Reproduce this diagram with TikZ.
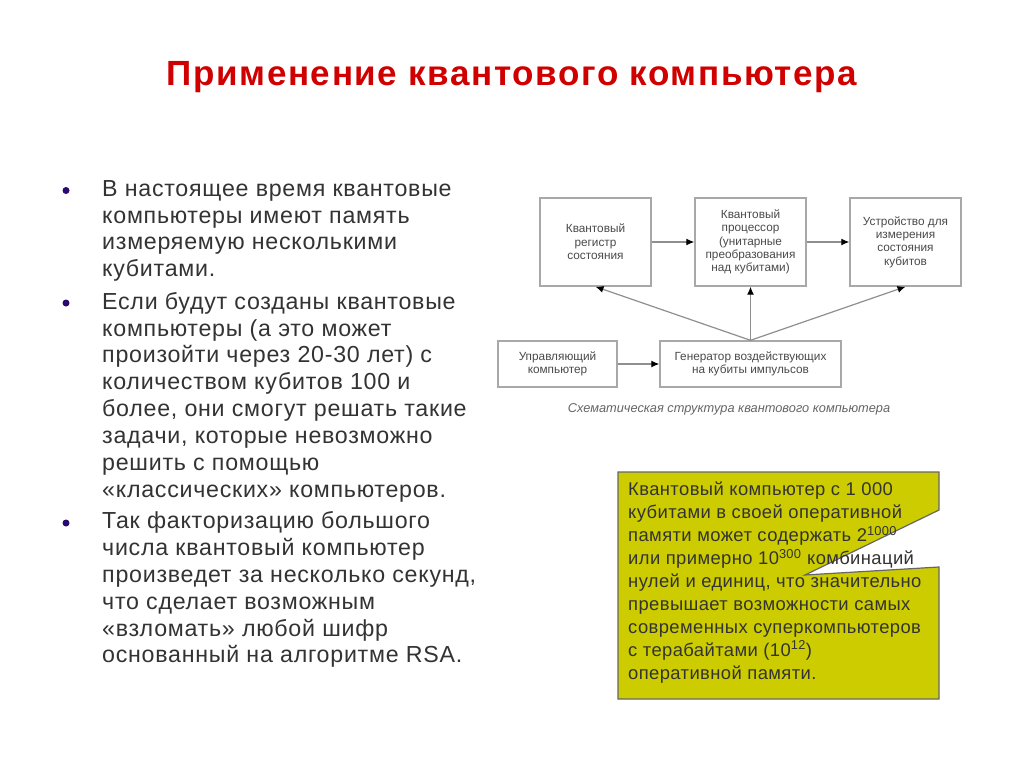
\documentclass[tikz,border=0pt]{standalone}
\usepackage{fontspec}
\setmainfont{Liberation Sans}
\usetikzlibrary{arrows.meta}
\definecolor{dtext}{HTML}{4A4A4A}
\definecolor{bodytext}{HTML}{333333}
\definecolor{dline}{HTML}{A8A8A8}
\definecolor{ttl}{HTML}{D00000}
\definecolor{bul}{HTML}{2A0A70}
\definecolor{yel}{HTML}{CCCC00}
\tikzset{
 dbox/.style={draw=dline,line width=1.4pt,fill=white,inner sep=0pt,align=center,text=dtext,font=\fontsize{11.8}{13.4}\selectfont},
 dconn/.style={draw=dline!85!black,line width=1.2pt,-{Latex[length=8pt,width=7pt,black]}},
 para/.style={anchor=north west,inner sep=0pt,align=left,text=bodytext,font=\fontsize{23.2}{26.85}\selectfont\addfontfeature{LetterSpace=3.2}},
 bulletdot/.style={circle,fill=bul,inner sep=0pt,minimum size=7pt},
}
\begin{document}
\begin{tikzpicture}[x=1pt,y=-1pt]
\useasboundingbox (0,0) rectangle (1024,768);
\fill[white] (0,0) rectangle (1024,768);
\node[text=ttl,inner sep=0pt] (title) at (512,77) {\fontsize{35}{42}\selectfont\bfseries\addfontfeature{LetterSpace=4.6}Применение квантового компьютера};
% bullets
\node[bulletdot] (b1dot) at (66,190.5) {};
\node[bulletdot] (b2dot) at (66,303) {};
\node[bulletdot] (b3dot) at (66,523) {};
\node[para] (p1) at (102,180) {В настоящее время квантовые\\компьютеры имеют память\\измеряемую несколькими\\кубитами.};
\node[para] (p2) at (102,292) {Если будут созданы квантовые\\компьютеры (а это может\\произойти через 20-30 лет) с\\количеством кубитов 100 и\\более, они смогут решать такие\\задачи, которые невозможно\\решить с помощью\\«классических» компьютеров.};
\node[para] (p3) at (102,511.5) {Так факторизацию большого\\числа квантовый компьютер\\произведет за несколько секунд,\\что сделает возможным\\«взломать» любой шифр\\основанный на алгоритме RSA.};
% diagram
\node[dbox,minimum width=111pt,minimum height=88pt] (reg) at (595.5,242) {Квантовый\\регистр\\состояния};
\node[dbox,minimum width=111pt,minimum height=88pt] (proc) at (750.5,242) {Квантовый\\процессор\\(унитарные\\преобразования\\над кубитами)};
\node[dbox,minimum width=111pt,minimum height=88pt] (meas) at (905.5,242) {Устройство для\\измерения\\состояния\\кубитов};
\node[dbox,minimum width=119pt,minimum height=46pt] (ctrl) at (557.5,364) {Управляющий\\компьютер};
\node[dbox,minimum width=181pt,minimum height=46pt] (gen) at (750.5,364) {Генератор воздействующих\\на кубиты импульсов};
\draw[dconn] (reg) -- (proc);
\draw[dconn] (proc) -- (meas);
\draw[dconn] (ctrl) -- (gen);
\draw[dconn] (gen.north) -- (reg.south);
\draw[dconn] (gen.north) -- (proc.south);
\draw[dconn] (gen.north) -- (meas.south);
\node[inner sep=0pt,text=dtext!85,font=\fontsize{12.8}{15}\selectfont\itshape] (cap) at (729,409) {Схематическая структура квантового компьютера};
% note
\draw[draw=black!60,line width=1.2pt,fill=yel] (618,472) -- (939,472) -- (939,510) -- (805,575) -- (939,567) -- (939,699) -- (618,699) -- cycle;
\node[anchor=north west,inner sep=0pt,align=left,text=black!80,font=\fontsize{18.4}{22.9}\selectfont\addfontfeature{LetterSpace=2.2}] (note) at (628,482) {Квантовый компьютер с 1 000\\кубитами в своей оперативной\\памяти может содержать 2\textsuperscript{1000}\\или примерно 10\textsuperscript{300} комбинаций\\нулей и единиц, что значительно\\превышает возможности самых\\современных суперкомпьютеров\\с терабайтами (10\textsuperscript{12})\\оперативной памяти.};
\end{tikzpicture}
\end{document}
